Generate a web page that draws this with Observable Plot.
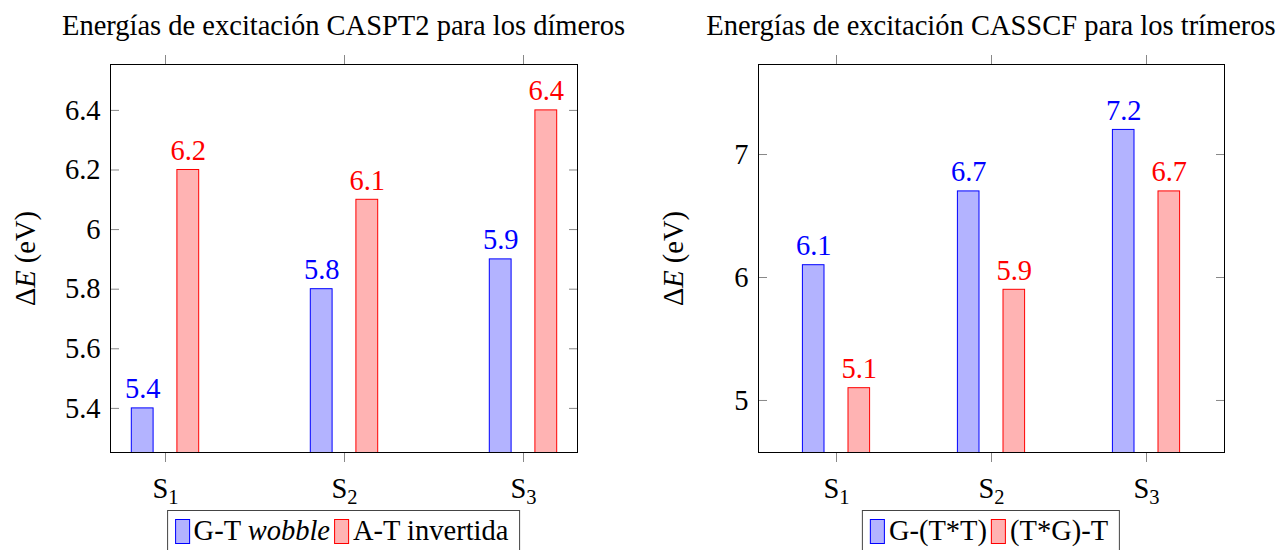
<!DOCTYPE html>
<html><head><meta charset="utf-8">
<script src="https://cdn.jsdelivr.net/npm/d3@7"></script>
<script src="https://cdn.jsdelivr.net/npm/@observablehq/plot@0.6"></script>
<style>
body{margin:0;background:#fff;font-family:"Liberation Serif","Times New Roman",serif;color:#000;}
#wrap{position:relative;width:1279px;height:550px;overflow:hidden;background:#fff;}
.panel{position:absolute;top:0;height:550px;}
.title{position:absolute;top:10px;white-space:nowrap;font-family:"Liberation Serif",serif;font-size:28.5px;line-height:32px;transform:translateX(-50%);}
.chart{position:absolute;top:46px;left:0;}
.legend{position:absolute;top:510px;transform:translateX(-50%);border:1px solid #444;white-space:nowrap;font-family:"Liberation Serif",serif;font-size:28.5px;line-height:34px;padding:3px 11px 12px 7px;display:flex;align-items:center;}
.sw{display:inline-block;width:15px;height:25px;border:1px solid;margin-right:4px;box-sizing:border-box;}
.item{display:flex;align-items:center;margin-right:4px;}
.item:last-child{margin-right:0;}
svg text{font-family:"Liberation Serif",serif !important;}
</style></head>
<body>
<div id="wrap">
  <div class="panel" id="p1" style="left:0;width:640px;"></div>
  <div class="panel" id="p2" style="left:640px;width:639px;"></div>
</div>
<script>
const categories = ["S1", "S2", "S3"];
const dimerTitle = "Energías de excitación CASPT2 para los dímeros";
const trimerTitle = "Energías de excitación CASSCF para los trímeros";
const dimerSeries = ["G-T wobble", "A-T invertida"];
const dimerGT = [5.4, 5.8, 5.9];
const dimerAT = [6.2, 6.1, 6.4];
const trimerSeries = ["G-(T*T)", "(T*G)-T"];
const trimerG = [6.1, 6.7, 7.2];
const trimerT = [5.1, 5.9, 6.7];
const dimerTicks = [5.4, 5.6, 5.8, 6, 6.2, 6.4];
const trimerTicks = [5, 6, 7];
const dimerDomain = [5.252, 6.554];
const trimerDomain = [4.577, 7.732];
const yLabel = "ΔE (eV)";

const blueFill = "#b3b3ff", blueStroke = "#0000ff", redFill = "#ffb3b3", redStroke = "#ff0000";
const FONT = '"Liberation Serif", serif';

function makeChart({a, b, ticks, domain, width, marginLeft, marginRight, padIn, padOut, inset}) {
  const rowsA = categories.map((c, i) => ({cat: c, v: a[i]}));
  const rowsB = categories.map((c, i) => ({cat: c, v: b[i]}));
  const off = 22.8;
  const fs = 28.5;
  const svg = Plot.plot({
    width, height: 460, marginLeft, marginRight, marginTop: 18, marginBottom: 54,
    style: {fontFamily: FONT, fontSize: fs + "px", background: "white", color: "black", overflow: "visible"},
    x: {type: "band", domain: categories, paddingInner: padIn, paddingOuter: padOut},
    y: {domain},
    marks: [
      Plot.barY(rowsA, {x: "cat", y: "v", fill: blueFill, stroke: blueStroke, strokeWidth: 1, insetLeft: inset, insetRight: inset, dx: -off, clip: true}),
      Plot.barY(rowsB, {x: "cat", y: "v", fill: redFill, stroke: redStroke, strokeWidth: 1, insetLeft: inset, insetRight: inset, dx: off, clip: true}),
      Plot.text(rowsA, {x: "cat", y: "v", text: d => d.v.toFixed(1), fill: blueStroke, dx: -off, dy: -10, lineAnchor: "bottom", fontSize: fs, fontFamily: FONT}),
      Plot.text(rowsB, {x: "cat", y: "v", text: d => d.v.toFixed(1), fill: redStroke, dx: off, dy: -10, lineAnchor: "bottom", fontSize: fs, fontFamily: FONT}),
      Plot.axisY(ticks, {anchor: "left", tickSize: 0, tickPadding: 10, tickFormat: d => String(d), label: yLabel, labelAnchor: "center", labelArrow: "none", labelOffset: 96, fill: "black", fontFamily: FONT}),
      Plot.axisY(ticks, {anchor: "left", tickSize: 9, insetLeft: 9, tickFormat: () => "", label: null, stroke: "#888"}),
      Plot.axisY(ticks, {anchor: "right", tickSize: 9, insetRight: 9, tickFormat: () => "", label: null, stroke: "#888"}),
      Plot.axisX({anchor: "bottom", tickSize: 10, tickPadding: 15, stroke: "#888", fill: "black", label: null, fontFamily: FONT}),
      Plot.axisX({anchor: "top", tickSize: 10, tickFormat: () => "", label: null, stroke: "#888"}),
      Plot.frame({stroke: "black", strokeWidth: 1})
    ]
  });
  d3.select(svg).style("font-family", FONT);
  // subscript tick labels
  d3.select(svg).selectAll('g[aria-label="x-axis tick label"] text').each(function() {
    const t = d3.select(this);
    const s = t.text();
    t.text(null);
    t.append("tspan").text(s.slice(0, 1));
    t.append("tspan").attr("dy", "0.3em").attr("font-size", "0.72em").text(s.slice(1));
  });
  // italic E in y label
  d3.select(svg).selectAll('g[aria-label="y-axis label"] text').each(function() {
    const t = d3.select(this);
    const s = t.text();
    const i = s.indexOf("E");
    t.text(null);
    t.append("tspan").text(s.slice(0, i));
    t.append("tspan").attr("font-style", "italic").text("E");
    t.append("tspan").text(s.slice(i + 1));
  });
  return svg;
}

function buildPanel(el, {title, series, chart, center}) {
  const p = document.getElementById(el);
  const t = document.createElement("div");
  t.className = "title";
  t.style.left = center + "px";
  t.textContent = title;
  p.appendChild(t);
  const c = document.createElement("div");
  c.className = "chart";
  c.appendChild(chart);
  p.appendChild(c);
  const lg = document.createElement("div");
  lg.className = "legend";
  lg.style.left = center + "px";
  series.forEach((s, i) => {
    const it = document.createElement("span");
    it.className = "item";
    const sw = document.createElement("span");
    sw.className = "sw";
    sw.style.background = i === 0 ? blueFill : redFill;
    sw.style.borderColor = i === 0 ? blueStroke : redStroke;
    it.appendChild(sw);
    const tx = document.createElement("span");
    if (s.includes("wobble")) {
      const k = s.indexOf("wobble");
      tx.append(s.slice(0, k));
      const em = document.createElement("i");
      em.textContent = "wobble";
      tx.append(em);
    } else {
      tx.textContent = s;
    }
    it.appendChild(tx);
    lg.appendChild(it);
  });
  p.appendChild(lg);
}

buildPanel("p1", {
  title: dimerTitle, series: dimerSeries, center: 343.5,
  chart: makeChart({a: dimerGT, b: dimerAT, ticks: dimerTicks, domain: dimerDomain, width: 640, marginLeft: 110, marginRight: 63, padIn: 0.5, padOut: 0.05, inset: 34.1})
});
buildPanel("p2", {
  title: trimerTitle, series: trimerSeries, center: 351,
  chart: makeChart({a: trimerG, b: trimerT, ticks: trimerTicks, domain: trimerDomain, width: 639, marginLeft: 118, marginRight: 55, padIn: 0.5, padOut: 0.2436, inset: 28.2})
});
</script>
</body></html>
